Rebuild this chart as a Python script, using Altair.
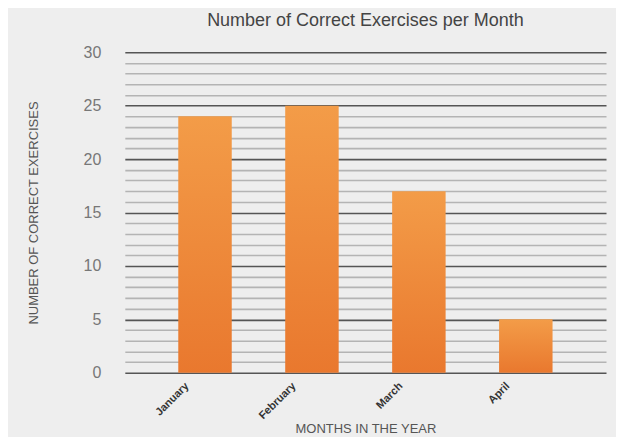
import altair as alt
import pandas as pd

months = ["January", "February", "March", "April"]
correct = [24, 25, 17, 5]

df = pd.DataFrame({"month": months, "count": correct})

grad = alt.LinearGradient(
    gradient="linear", x1=0, y1=0, x2=0, y2=1,
    stops=[alt.GradientStop(color="#f39c48", offset=0),
           alt.GradientStop(color="#e9782e", offset=1)],
)

chart = alt.Chart(df).mark_bar(color=grad).encode(
    x=alt.X("month:N", sort=months,
            scale=alt.Scale(paddingInner=0.5, paddingOuter=0.5),
            axis=alt.Axis(title="MONTHS IN THE YEAR", labelAngle=-45,
                          labelFont="Liberation Sans", labelFontSize=11,
                          labelFontWeight="bold", labelColor="#333",
                          labelPadding=7, labelOffset=-22,
                          ticks=False, domain=False,
                          titleFont="Liberation Sans", titleFontSize=13,
                          titleFontWeight="normal", titleColor="#555",
                          titlePadding=2, grid=False)),
    y=alt.Y("count:Q", scale=alt.Scale(domain=[0, 30], nice=False),
            axis=alt.Axis(title="NUMBER OF CORRECT EXERCISES",
                          values=list(range(0, 31)),
                          labelExpr="datum.value % 5 === 0 ? datum.label : ''",
                          labelFont="Liberation Sans", labelFontSize=16,
                          labelColor="#777", labelPadding=24,
                          ticks=False, domain=False,
                          grid=True,
                          gridColor=alt.condition("datum.value % 5 === 0",
                                                  alt.value("#555555"),
                                                  alt.value("#b4b4b4")),
                          gridWidth=1.6,
                          titleFont="Liberation Sans", titleFontSize=13,
                          titleFontWeight="normal", titleColor="#555",
                          titlePadding=43)),
).properties(
    width=482, height=321,
    title=alt.TitleParams("Number of Correct Exercises per Month",
                          font="Liberation Sans", fontSize=18,
                          fontWeight="normal", color="#444", offset=14),
    background="#eeeeee",
    padding={"left": 117, "top": 44, "right": 10, "bottom": 64},
    autosize=alt.AutoSizeParams(type="none"),
).configure_view(stroke=None)

chart.save("out.html", embed_options={"renderer": "svg", "actions": False})
